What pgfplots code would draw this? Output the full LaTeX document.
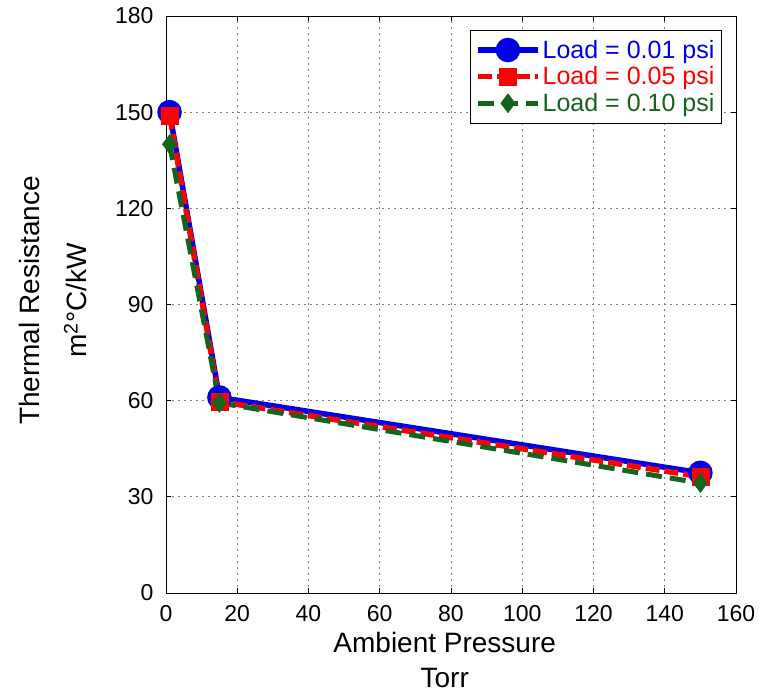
\documentclass[border=0pt]{standalone}
\usepackage{fontspec}
\setmainfont{Liberation Sans}
\usepackage{pgfplots}
\pgfplotsset{compat=1.18}
\definecolor{cblue}{RGB}{0,0,230}
\definecolor{cred}{RGB}{255,0,0}
\definecolor{cgreen}{RGB}{20,100,30}
\begin{document}
\begin{tikzpicture}
\begin{axis}[
  scale only axis,
  width=570bp, height=577bp,
  xmin=0, xmax=160, ymin=0, ymax=180,
  xtick={0,20,...,160}, ytick={0,30,...,180},
  tick align=inside,
  major tick length=5bp,
  grid=major,
  grid style={gray, dash pattern=on 2bp off 4bp, line width=0.8bp},
  axis line style={line width=0.8bp},
  tick style={black, line width=0.8bp},
  /pgf/number format/assume math mode=true,
  ticklabel style={font=\fontsize{23bp}{27bp}\selectfont},
  xticklabel style={yshift=-9bp},
  yticklabel style={xshift=-9bp},
  xlabel={Ambient Pressure\\Torr},
  ylabel={Thermal Resistance\\m\textsuperscript{2}°C/kW},
  xlabel style={at={(rel axis cs:0.489,-0.116)}, anchor=center,
    font=\fontsize{28bp}{35bp}\selectfont, align=center},
  ylabel style={at={(rel axis cs:-0.198,0.507)}, anchor=center,
    font=\fontsize{28bp}{47bp}\selectfont, align=center},
  legend style={at={(0.975,0.976)}, anchor=north east, draw=black, line width=0.8bp,
    font=\fontsize{25bp}{28bp}\selectfont, row sep=3bp, inner xsep=5bp, inner ysep=8bp},
  legend cell align=left,
  legend image code/.code={
    \draw[#1] (0bp,0bp) -- (60bp,0bp);
    \draw[#1, solid] plot coordinates {(30bp,0bp)};
  },
]
\addplot[cblue, line width=5.5bp, mark=*, mark size=9.5bp, mark options={solid}] coordinates {(1,150) (15,61) (150,37.5)};
\addlegendentry{\textcolor{cblue}{Load = 0.01 psi}}
\addplot[cred, line width=5.5bp, dash pattern=on 14bp off 5bp, mark=square*, mark size=8.5bp, mark options={solid, line width=0.5bp}] coordinates {(1,149) (15,59.7) (150,36.3)};
\addlegendentry{\textcolor{cred}{Load = 0.05 psi}}
\addplot[cgreen, line width=5bp, dash pattern=on 16bp off 8bp, mark=diamond*, mark size=9.5bp, mark options={solid, line width=0.5bp}] coordinates {(1,140) (15,59.3) (150,34.3)};
\addlegendentry{\textcolor{cgreen}{Load = 0.10 psi}}
\end{axis}
\path (-166bp,-101bp) rectangle (595bp,593bp);
\end{tikzpicture}
\end{document}
